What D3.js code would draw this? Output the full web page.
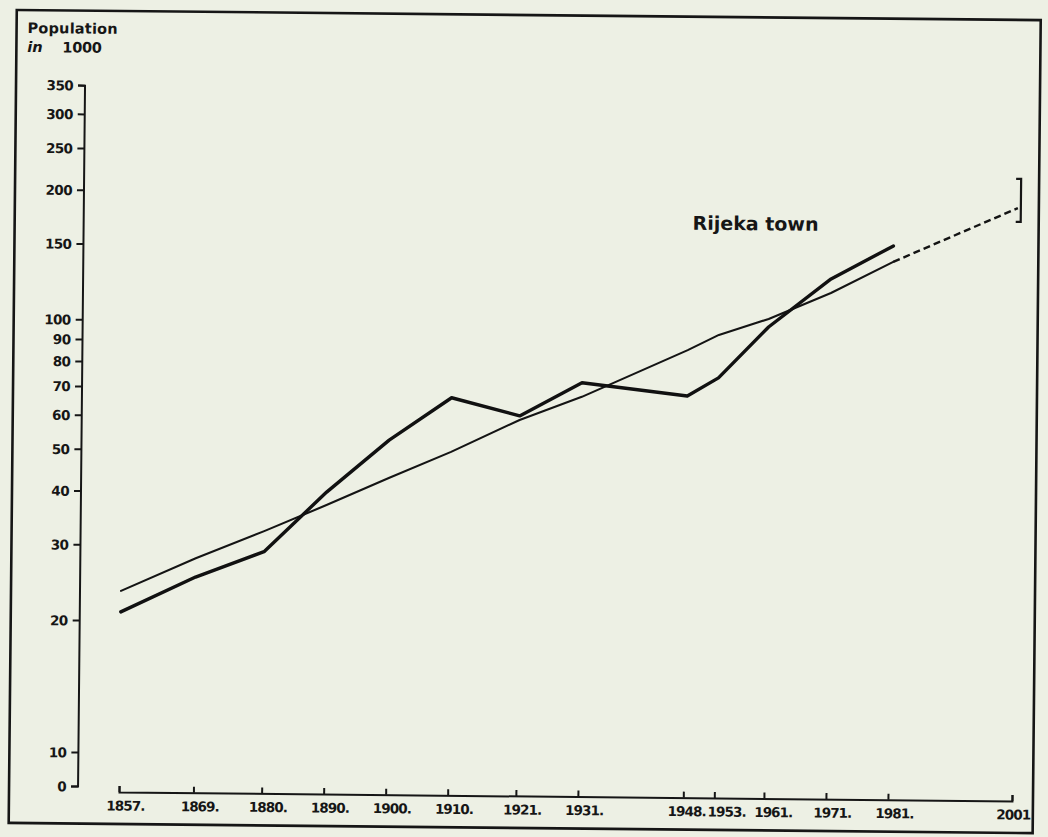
<!DOCTYPE html>
<html>
<head>
<meta charset="utf-8">
<script src="https://cdn.jsdelivr.net/npm/d3@7"></script>
<style>
  html, body { margin: 0; padding: 0; background: #edf0e4; }
  svg { display: block; }
  text { font-family: "DejaVu Sans", "Liberation Sans", Arial, sans-serif; font-weight: bold; fill: #161616; }
</style>
</head>
<body>
<svg id="chart" width="1048" height="837"></svg>
<script>
// ---- data (population in thousands) ----
const years = [1857, 1869, 1880, 1890, 1900, 1910, 1921, 1931, 1948, 1953, 1961, 1971, 1981];
const townPop = [21.0, 25.4, 29.2, 40.3, 53.4, 67.2, 61.2, 73.3, 68.7, 75.8, 99.8, 129.5, 155.0];
const trendPop = [23.5, 28.1, 32.6, 37.6, 43.6, 50.3, 59.9, 68.0, 87.8, 95.4, 104.2, 120.1, 142.3];
const projYears = [1981, 2001];
const projPop = [142.3, 191.0];
const projRange = [177.5, 223.4];
const xTickYears = [1857, 1869, 1880, 1890, 1900, 1910, 1921, 1931, 1948, 1953, 1961, 1971, 1981, 2001];
const xTickLabels = ["1857.", "1869.", "1880.", "1890.", "1900.", "1910.", "1921.", "1931.", "1948.", "1953.", "1961.", "1971.", "1981.", "2001"];
const yTickValues = [0, 10, 20, 30, 40, 50, 60, 70, 80, 90, 100, 150, 200, 250, 300, 350];
const seriesLabel = "Rijeka town";
const axisTitle = ["Population", "in", "1000"];

// ---- layout ----
const svg = d3.select("#chart");
svg.append("rect").attr("width", 1048).attr("height", 837).attr("fill", "#edf0e4");

// the scanned page is slightly rotated
const g = svg.append("g").attr("transform", "rotate(0.57,119,792)");

// outer frame
g.append("rect").attr("x", 9).attr("y", 11).attr("width", 1024).attr("height", 813)
  .attr("fill", "none").attr("stroke", "#161616").attr("stroke-width", 2.6);

const x = d3.scaleLinear().domain([1857, 2001]).range([119, 1012]);
const yLog = d3.scaleLog().domain([20, 350]).range([621, 86]);
const yLow = d3.scaleLinear().domain([0, 10]).range([787, 753]);
const y = v => (v >= 20 ? yLog(v) : yLow(v));

// ---- y axis (drawn by hand because of the broken scale) ----
const axX = 78, tick = 7;
g.append("path")
  .attr("d", `M${axX - tick},${y(350)}H${axX}V${y(0)}H${axX - tick}`)
  .attr("fill", "none").attr("stroke", "#161616").attr("stroke-width", 2);
const yt = g.append("g").selectAll("g").data(yTickValues).join("g")
  .attr("transform", d => `translate(0,${y(d)})`);
yt.append("line").attr("x1", axX - tick).attr("x2", axX)
  .attr("stroke", "#161616").attr("stroke-width", 2);
yt.append("text").attr("x", axX - tick - 5).attr("dy", "0.36em")
  .attr("text-anchor", "end").style("font-size", "13.5px").style("letter-spacing", "-0.6px")
  .text(d => d);

// ---- x axis ----
const labelShift = d => (d === 1948 ? 3 : d === 1953 ? 12 : d === 1961 ? 9 : d === 2001 ? 1 : 6);
const xAxis = d3.axisBottom(x)
  .tickValues(xTickYears)
  .tickFormat((d, i) => xTickLabels[i])
  .tickSizeInner(-6).tickSizeOuter(-6).tickPadding(9);
const xg = g.append("g").attr("transform", "translate(0,792)").call(xAxis);
xg.select(".domain").attr("stroke", "#161616").attr("stroke-width", 2);
xg.selectAll(".tick line").attr("stroke", "#161616").attr("stroke-width", 2);
xg.selectAll(".tick text")
  .attr("dx", d => labelShift(d))
  .style("font-family", "'DejaVu Sans', 'Liberation Sans', Arial, sans-serif")
  .style("font-weight", "bold").style("font-size", "13.5px").style("letter-spacing", "-0.9px")
  .attr("fill", "#161616");

// ---- axis title ----
g.append("text").attr("x", 20).attr("y", 34).style("font-size", "14.5px").style("letter-spacing", "0.2px")
  .text(axisTitle[0]);
g.append("text").attr("x", 20).attr("y", 53).style("font-size", "14.5px").style("font-style", "italic")
  .text(axisTitle[1]);
g.append("text").attr("x", 55).attr("y", 53).style("font-size", "14.5px").style("letter-spacing", "-0.3px")
  .text(axisTitle[2]);

// ---- lines ----
const line = d3.line().x(d => x(d[0])).y(d => y(d[1]));
g.append("path").datum(years.map((yr, i) => [yr, trendPop[i]]))
  .attr("d", line).attr("fill", "none").attr("stroke", "#141414")
  .attr("stroke-width", 2.1).attr("stroke-linejoin", "round").attr("stroke-linecap", "round");
g.append("path").datum(projYears.map((yr, i) => [yr, projPop[i]]))
  .attr("d", line).attr("fill", "none").attr("stroke", "#141414")
  .attr("stroke-width", 2.4).attr("stroke-dasharray", "7,4");
g.append("path").datum(years.map((yr, i) => [yr, townPop[i]]))
  .attr("d", line).attr("fill", "none").attr("stroke", "#111")
  .attr("stroke-width", 3.4).attr("stroke-linejoin", "round").attr("stroke-linecap", "round");

// projection bracket
const bx = x(2001) + 3;
g.append("path")
  .attr("d", `M${bx - 5},${y(projRange[1])}H${bx}V${y(projRange[0])}H${bx - 5}`)
  .attr("fill", "none").attr("stroke", "#161616").attr("stroke-width", 2.2);

// series label
g.append("text").attr("x", 687).attr("y", 224).style("font-size", "19px").style("letter-spacing", "0px")
  .text(seriesLabel);
</script>
</body>
</html>
